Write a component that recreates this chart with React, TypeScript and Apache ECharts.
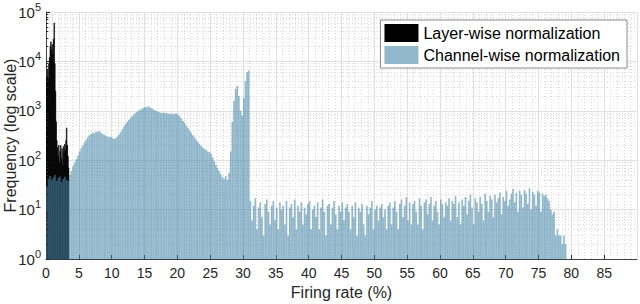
import React, { useEffect, useRef } from "react";
import * as echarts from "echarts";

// Layer-wise normalization histogram (bin width 0.1 %)
const layerBinWidth = 0.1;
const layerCounts = [
  4000, 5000, 7000, 4500, 9000, 12000, 20000, 25000, 17000, 22000,
  14000, 28000, 60000, 9000, 2500, 600, 250, 180, 120, 200,
  90, 150, 200, 110, 170, 80, 190, 140, 210, 160,
  250, 450, 200, 120, 70,
];

// Channel-wise normalization histogram (bin width 0.25 %), 0 -> 10 %
const channelBinWidth = 0.25;
const channelRise = [
  30, 42, 48, 40, 45, 50, 38, 44, 47, 36, 42, 46, 40, 38,
  50, 60, 75, 90, 105, 125, 150, 175, 200, 230, 260, 290, 320, 340,
  360, 350, 380, 370, 390, 360, 340, 330, 310, 300, 290, 300,
];
// 10 -> 31 %
const channelPeak = [
  280, 270, 280, 300, 330, 370, 420, 480, 540, 600, 660, 720,
  780, 840, 900, 960, 1010, 1060, 1100, 1150, 1200, 1180, 1230, 1160,
  1120, 1060, 1010, 980, 950, 920, 900, 930, 890, 910, 870, 860,
  890, 850, 870, 880, 830, 770, 700, 620, 560, 500, 450, 400,
  360, 320, 290, 260, 235, 215, 195, 180, 170, 160, 150, 145,
  135, 115, 95, 80, 70, 60, 52, 45, 42, 48, 40, 55,
  150, 600, 1600, 2800, 3200, 2000, 1000, 800, 1800, 4000, 6000, 6500,
];
// 31 -> 79.25 %
const channelTail = [
  15, 6, 12, 17, 4, 11, 14, 7, 3, 13, 16, 9, 5, 12, 15, 6, 11, 4, 14, 10,
  12, 5, 15, 3, 11, 13, 7, 16, 4, 12, 9, 14, 5, 11, 8, 13, 15, 4, 10, 12,
  7, 14, 4, 11, 16, 9, 3, 12, 13, 5, 11, 15, 8, 4, 12, 9, 14, 6, 11, 13,
  9, 4, 12, 7, 14, 3, 11, 9, 13, 5, 3, 12, 8, 11, 15, 4, 10, 12, 6, 11,
  13, 7, 10, 4, 12, 14, 5, 11, 15, 9, 4, 13, 16, 7, 12, 18, 6, 14, 5, 13,
  15, 9, 5, 17, 12, 4, 14, 16, 8, 13, 18, 6, 12, 15, 9, 5, 16, 13, 7, 14,
  12, 17, 6, 15, 13, 19, 7, 14, 5, 16, 12, 18, 8, 15, 20, 11, 5, 17, 14, 9,
  18, 13, 6, 21, 15, 9, 19, 16, 7, 20, 14, 17, 22, 8, 18, 15, 24, 12, 16, 21,
  26, 14, 22, 9, 24, 20, 11, 25, 21, 13, 27, 10, 23, 20, 12, 24, 22, 9, 21, 19,
  20, 17, 15, 10, 8, 9, 3, 4, 3, 3, 2, 3, 2,
];

const xMin = 0;
const xMax = 90;
const xInterval = 5;
const yMin = 1;
const yMax = 100000;
const minorMultipliers = [2, 3, 4, 5, 6, 7, 8, 9];
const decades = [1, 10, 100, 1000, 10000];

const LAYER_NAME = "Layer-wise normalization";
const CHANNEL_NAME = "Channel-wise normalization";

function toBins(counts: number[], width: number) {
  return counts.map((c, i) => [i * width, (i + 1) * width, c]);
}

function makeRender(fill: string, stroke?: string) {
  return (params: any, api: any) => {
    const x0 = api.value(0);
    const x1 = api.value(1);
    const v = api.value(2);
    const top = api.coord([x0, v]);
    const base = api.coord([x1, yMin]);
    return {
      type: "rect",
      shape: {
        x: top[0],
        y: top[1],
        width: base[0] - top[0],
        height: base[1] - top[1],
      },
      style: stroke ? { fill, stroke, lineWidth: 0.5 } : { fill },
    };
  };
}

export default function App() {
  const ref = useRef<HTMLDivElement>(null);

  useEffect(() => {
    if (!ref.current) return;
    const chart = echarts.init(ref.current, undefined, { renderer: "svg" });

    const yMinor: number[] = [];
    decades.forEach((d) => minorMultipliers.forEach((m) => yMinor.push(d * m)));

    const channelCounts = channelRise.concat(channelPeak, channelTail);
    const textColor = "#262626";
    const minorGrid = { color: "#dadada", type: [1, 2], width: 1 };

    chart.setOption({
      animation: false,
      textStyle: { fontFamily: "Liberation Sans, Arial, sans-serif" },
      grid: { left: 46, right: 3, top: 12, bottom: 45, outerBoundsMode: "none" },
      legend: {
        data: [LAYER_NAME, CHANNEL_NAME],
        orient: "vertical",
        right: 13,
        top: 20,
        itemWidth: 34,
        itemHeight: 18,
        itemGap: 4,
        icon: "rect",
        padding: [4, 7, 4, 4],
        backgroundColor: "#ffffff",
        borderColor: "#8c8c8c",
        borderWidth: 1,
        borderRadius: 0,
        textStyle: { fontSize: 16, color: "#000000" },
        selectedMode: false,
      },
      xAxis: {
        type: "value",
        min: xMin,
        max: xMax,
        interval: xInterval,
        name: "Firing rate (%)",
        nameLocation: "middle",
        nameGap: 25,
        nameTextStyle: { fontSize: 16, color: textColor },
        axisLine: { show: true, onZero: false, lineStyle: { color: "#404040", width: 1 } },
        axisTick: { show: true, inside: true, length: 4, lineStyle: { color: textColor } },
        axisLabel: { fontSize: 14, color: textColor, margin: 7, showMaxLabel: false },
        splitLine: { show: true, lineStyle: { color: "#e0e0e0", width: 1 } },
        minorTick: { show: false, splitNumber: 5 },
        minorSplitLine: { show: true, lineStyle: minorGrid },
      },
      yAxis: {
        type: "log",
        logBase: 10,
        min: yMin,
        max: yMax,
        name: "Frequency (log scale)",
        nameLocation: "middle",
        nameGap: 28,
        nameMoveOverlap: false,
        nameTextStyle: { fontSize: 16, color: textColor },
        axisLine: { show: true, lineStyle: { color: "#404040", width: 1 } },
        axisTick: { show: true, inside: true, length: 4, lineStyle: { color: textColor } },
        axisLabel: {
          margin: 5,
          formatter: (v: number) => "{b|10}{s|" + Math.round(Math.log10(v)) + "}",
          rich: {
            b: { fontSize: 15, color: textColor, lineHeight: 22 },
            s: { fontSize: 11, color: textColor, lineHeight: 12, verticalAlign: "top" },
          },
        },
        splitLine: { show: true, lineStyle: { color: "#e0e0e0", width: 1 } },
      },
      series: [
        {
          name: LAYER_NAME,
          type: "custom",
          renderItem: makeRender("#000000", "#000000"),
          itemStyle: { color: "#000000" },
          encode: { x: [0, 1], y: 2 },
          data: toBins(layerCounts, layerBinWidth),
          clip: true,
          z: 2,
          markLine: {
            silent: true,
            symbol: "none",
            z: 1,
            label: { show: false },
            lineStyle: minorGrid,
            emphasis: { disabled: true },
            data: yMinor.map((v) => ({ yAxis: v })),
          },
        },
        {
          name: CHANNEL_NAME,
          type: "custom",
          renderItem: makeRender("rgba(73,137,170,0.6)"),
          itemStyle: { color: "rgba(73,137,170,0.6)" },
          encode: { x: [0, 1], y: 2 },
          data: toBins(channelCounts, channelBinWidth),
          clip: true,
          z: 3,
          markLine: {
            silent: true,
            symbol: "none",
            z: 6,
            label: { show: false },
            lineStyle: { color: textColor, type: "solid", width: 1 },
            emphasis: { disabled: true },
            data: yMinor.map((v) => [{ coord: [xMin, v] }, { coord: [xMin + 0.35, v] }]),
          },
        },
      ],
    });

    return () => chart.dispose();
  }, []);

  return (
    <div
      ref={ref}
      style={{ position: "absolute", left: 0, top: 0, width: 640, height: 304 }}
    />
  );
}
